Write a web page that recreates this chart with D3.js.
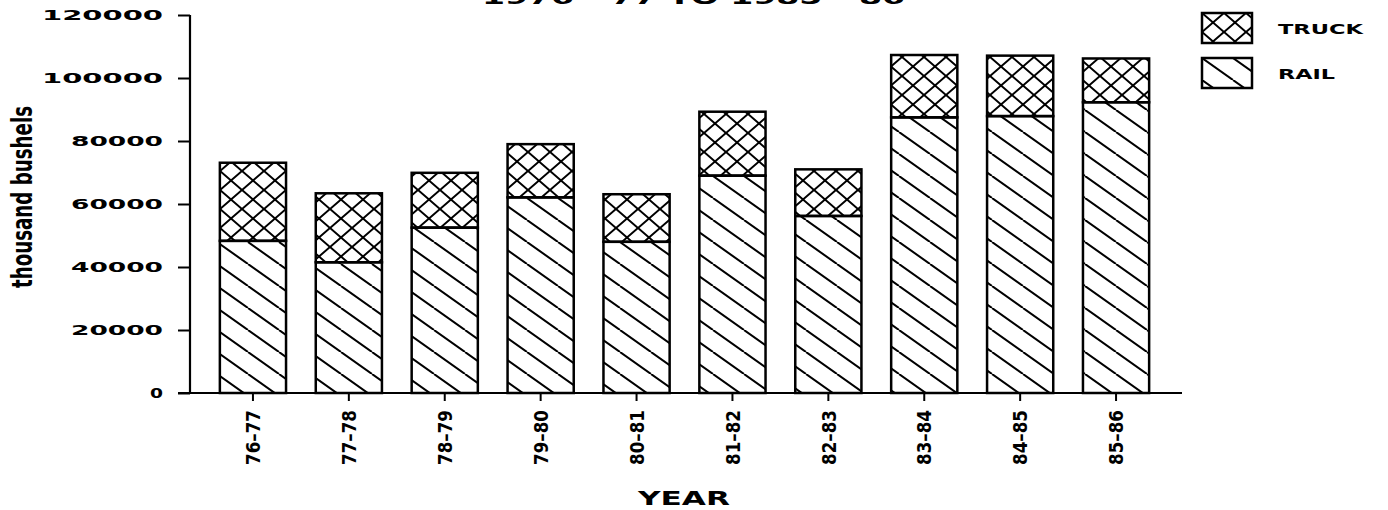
<!DOCTYPE html>
<html>
  <head>
    <meta charset="utf-8">
    <title>Rail and truck shipments</title>
    <script src="https://d3js.org/d3.v7.min.js"></script>
    <style>
      body { margin: 0; background: #fff; }
      svg { display: block; }
    </style>
  </head>
  <body>
    <svg width="1388" height="510"></svg>

    <script>
      // ====================================
      //  data (thousand bushels)
      // ====================================
      const years = ["76-77", "77-78", "78-79", "79-80", "80-81",
                     "81-82", "82-83", "83-84", "84-85", "85-86"];
      const rail  = [48300, 41500, 52500, 62100, 48000, 69000, 56200, 87500, 87900, 92300];
      const truck = [24800, 21900, 17400, 16900, 15100, 20300, 14800, 19800, 19200, 13900];
      const yTicks = [0, 20000, 40000, 60000, 80000, 100000, 120000];
      const seriesNames = ["TRUCK", "RAIL"];

      const svg = d3.select("svg");
      const ink = "#000";
      const narrow = "'Liberation Sans Narrow', 'DejaVu Sans Condensed', 'DejaVu Sans', sans-serif";

      // hatch patterns
      const defs = svg.append("defs");

      const cross = defs.append("pattern")
        .attr("id", "cross")
        .attr("patternUnits", "userSpaceOnUse")
        .attr("width", 22).attr("height", 19);
      cross.append("path")
        .attr("d", "M0,0L22,19M22,0L0,19M-22,0L0,19M22,19L44,38M0,-19L22,0M44,0L22,19")
        .attr("stroke", ink).attr("stroke-width", 2).attr("fill", "none");

      const diag = defs.append("pattern")
        .attr("id", "diag")
        .attr("patternUnits", "userSpaceOnUse")
        .attr("width", 31).attr("height", 22);
      diag.append("path")
        .attr("d", "M0,0L31,22M-31,0L0,22M31,0L62,22")
        .attr("stroke", ink).attr("stroke-width", 2).attr("fill", "none");

      // scales
      const x = d3.scaleBand()
        .domain(years)
        .range([205, 1164])
        .paddingInner(0.31)
        .paddingOuter(0.155);

      const y = d3.scaleLinear()
        .domain([0, 120000])
        .range([393, 15]);

      // stacked bars
      const rows = years.map((yr, i) => ({ year: yr, rail: rail[i], truck: truck[i] }));
      const stack = d3.stack().keys(["rail", "truck"])(rows);
      const fills = { rail: "url(#diag)", truck: "url(#cross)" };

      svg.append("g")
        .selectAll("g")
        .data(stack)
        .join("g")
          .attr("fill", d => fills[d.key])
        .selectAll("rect")
        .data(d => d)
        .join("rect")
          .attr("x", d => x(d.data.year))
          .attr("width", x.bandwidth())
          .attr("y", d => y(d[1]))
          .attr("height", d => y(d[0]) - y(d[1]))
          .attr("stroke", ink)
          .attr("stroke-width", 2.5);

      // y axis
      const yAxis = svg.append("g")
        .attr("transform", "translate(190,0)")
        .call(d3.axisLeft(y).tickValues(yTicks).tickSize(12).tickFormat(d3.format("d")));
      yAxis.select(".domain").attr("stroke-width", 2.2).attr("d", "M0,15V393");
      yAxis.selectAll(".tick line").attr("stroke-width", 2);
      const yLen = { 1: 13, 5: 92, 6: 121 };
      yAxis.selectAll(".tick text")
        .attr("x", -27)
        .attr("font-family", "DejaVu Sans")
        .attr("font-weight", "bold")
        .attr("font-size", 14)
        .attr("fill", ink)
        .attr("textLength", function () { return yLen[this.textContent.length]; })
        .attr("lengthAdjust", "spacingAndGlyphs");

      // x axis
      const xAxis = svg.append("g")
        .attr("transform", "translate(0,393)")
        .call(d3.axisBottom(x).tickSize(8).tickSizeOuter(0));
      xAxis.select(".domain").attr("stroke-width", 2.2).attr("d", "M178,0H1182");
      xAxis.selectAll(".tick line").attr("stroke-width", 2);
      xAxis.selectAll(".tick text")
        .text(d => d.replace("-", "\u2013"))
        .attr("transform", "rotate(-90)")
        .attr("x", -17)
        .attr("y", 0)
        .attr("dy", "0.36em")
        .attr("text-anchor", "end")
        .attr("font-family", narrow)
        .attr("font-weight", "bold")
        .attr("font-size", 20)
        .attr("fill", ink)
        .attr("textLength", 55)
        .attr("lengthAdjust", "spacingAndGlyphs");

      // axis titles
      svg.append("text")
        .attr("transform", "translate(32,197) rotate(-90)")
        .attr("text-anchor", "middle")
        .attr("font-family", narrow)
        .attr("font-weight", "bold")
        .attr("font-size", 28)
        .attr("fill", ink)
        .attr("textLength", 182)
        .attr("lengthAdjust", "spacingAndGlyphs")
        .text("thousand bushels");

      svg.append("text")
        .attr("x", 638).attr("y", 505)
        .attr("font-family", "DejaVu Sans")
        .attr("font-weight", "bold")
        .attr("font-size", 20)
        .attr("fill", ink)
        .attr("textLength", 92)
        .attr("lengthAdjust", "spacingAndGlyphs")
        .text("YEAR");

      // title (cut off at the top edge, as in the original)
      svg.append("text")
        .attr("x", 482).attr("y", 4)
        .attr("font-family", "DejaVu Sans")
        .attr("font-weight", "bold")
        .attr("font-size", 20)
        .attr("fill", ink)
        .attr("textLength", 423)
        .attr("lengthAdjust", "spacingAndGlyphs")
        .text("1976 - 77 TO 1985 - 86");

      // legend
      const legFill = { TRUCK: "url(#cross)", RAIL: "url(#diag)" };
      const legLen = { TRUCK: 85, RAIL: 57 };
      const leg = svg.append("g")
        .selectAll("g")
        .data(seriesNames)
        .join("g")
          .attr("transform", (d, i) => `translate(1202,${13 + i * 45})`);
      leg.append("rect")
        .attr("width", 50).attr("height", 30)
        .attr("fill", d => legFill[d])
        .attr("stroke", ink).attr("stroke-width", 2.5);
      leg.append("text")
        .attr("x", 76).attr("y", 21)
        .attr("font-family", "DejaVu Sans")
        .attr("font-weight", "bold")
        .attr("font-size", 14)
        .attr("fill", ink)
        .attr("textLength", d => legLen[d])
        .attr("lengthAdjust", "spacingAndGlyphs")
        .text(d => d);
    </script>
  </body>
</html>
